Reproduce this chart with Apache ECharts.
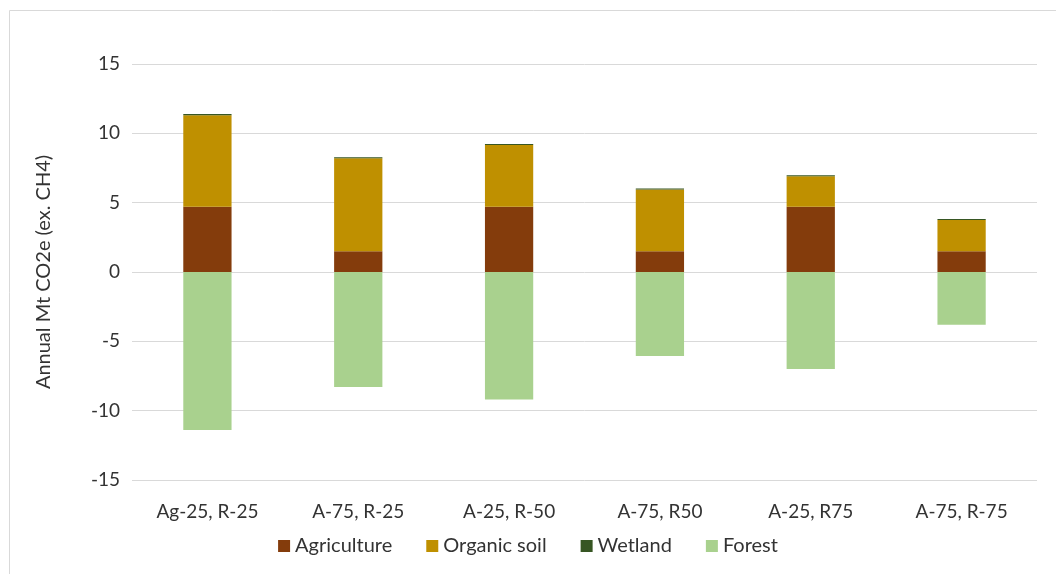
<!DOCTYPE html>
<html><head><meta charset="utf-8">
<script src="https://cdn.jsdelivr.net/npm/echarts@6/dist/echarts.min.js"></script>
<style>html,body{margin:0;padding:0;background:#fff}#c{width:1056px;height:574px}</style>
</head><body><div id="c"></div>
<script>
const categories = ["Ag-25, R-25", "A-75, R-25", "A-25, R-50", "A-75, R50", "A-25, R75", "A-75, R-75"];
const agriculture = [4.7, 1.5, 4.7, 1.5, 4.7, 1.5];
const organicSoil = [6.6, 6.7, 4.45, 4.45, 2.2, 2.25];
const wetland = [0.1, 0.08, 0.08, 0.08, 0.08, 0.08];
const forest = [-11.4, -8.3, -9.2, -6.05, -7.0, -3.8];
const yTicks = [-15, -10, -5, 0, 5, 10, 15];

const font = "Lato, 'Open Sans', sans-serif";
const chart = echarts.init(document.getElementById('c'));
const mk = (name, data, color) => ({
  name, type: 'bar', stack: 's', data, barWidth: '32%',
  itemStyle: { color }
});
chart.setOption({
  animation: false,
  graphic: [{ type: 'rect', shape: { x: 9.5, y: 10.5, width: 1100, height: 600 }, style: { fill: 'none', stroke: '#d9d9d9', lineWidth: 1 } }],
  grid: { left: 132, right: 19, top: 64, bottom: 94 },
  legend: {
    bottom: 13, left: 'center', itemWidth: 12, itemHeight: 12, itemGap: 34,
    icon: 'rect',
    textStyle: { fontFamily: font, fontSize: 20, color: '#333' },
    data: ['Agriculture', 'Organic soil', 'Wetland', 'Forest']
  },
  xAxis: {
    type: 'category', data: categories,
    axisLine: { show: false }, axisTick: { show: false },
    axisLabel: { fontFamily: font, fontSize: 19, color: '#333', margin: 22 }
  },
  yAxis: {
    type: 'value', min: yTicks[0], max: yTicks[yTicks.length - 1], interval: 5,
    name: 'Annual Mt CO2e (ex. CH4)', nameLocation: 'middle', nameGap: 78, nameRotate: 90,
    nameTextStyle: { fontFamily: font, fontSize: 20, color: '#333' },
    axisLine: { show: false }, axisTick: { show: false },
    axisLabel: { fontFamily: font, fontSize: 19, color: '#333', margin: 12 },
    splitLine: { lineStyle: { color: '#d9d9d9', width: 1 } }
  },
  series: [
    mk('Agriculture', agriculture, '#843C0C'),
    mk('Organic soil', organicSoil, '#BF9000'),
    mk('Wetland', wetland, '#375623'),
    mk('Forest', forest, '#A9D18E')
  ]
});
</script></body></html>
